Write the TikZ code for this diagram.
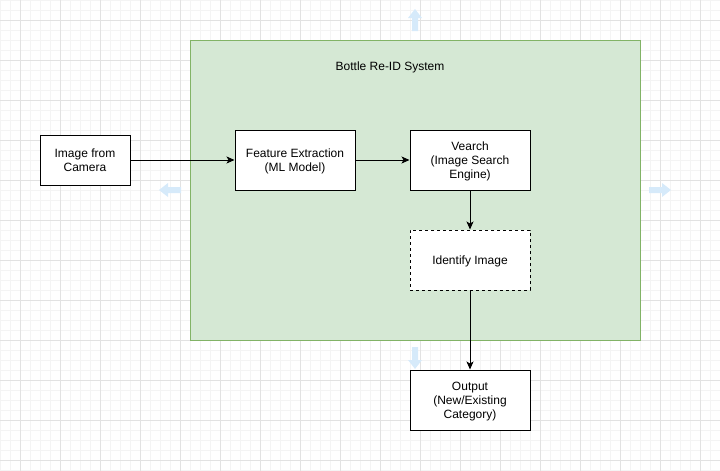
\documentclass[tikz,border=0pt]{standalone}
\usepackage{fontspec}
\setmainfont{Liberation Sans}
\usetikzlibrary{arrows.meta}

\definecolor{grpfill}{HTML}{D5E8D4}
\definecolor{grpline}{HTML}{82B366}
\definecolor{hint}{HTML}{D6EAFA}
\definecolor{minorline}{HTML}{F4F4F4}
\definecolor{majorline}{HTML}{E2E2E2}

\newcommand{\hintarrow}[2]{\fill[hint, shift={#1}, rotate=#2] (-3,11) -- (3,11) -- (3,-2) -- (7,-2) -- (0,-11) -- (-7,-2) -- (-3,-2) -- cycle;}

\begin{document}
\begin{tikzpicture}[x=1pt, y=-1pt, font=\fontsize{12}{14}\selectfont]
    \useasboundingbox (0,0) rectangle (720,471);

    % background grid
    \foreach \x in {0,10,...,720} \draw[minorline, line width=0.8pt] (\x,0) -- (\x,471);
    \foreach \y in {0,10,...,470} \draw[minorline, line width=0.8pt] (0,\y) -- (720,\y);
    \foreach \x in {20,60,...,700} \draw[majorline, line width=1pt] (\x,0) -- (\x,471);
    \foreach \y in {20,60,...,460} \draw[majorline, line width=1pt] (0,\y) -- (720,\y);

    % group
    \draw[grpline, fill=grpfill, line width=1pt] (190,40) rectangle (640,340);
    \node (title) [text depth=0pt] at (390,66) {Bottle Re-ID System};

    % hover arrows
    \hintarrow{(415,20)}{0}
    \hintarrow{(170,190)}{90}
    \hintarrow{(660,190)}{-90}
    \hintarrow{(415,358)}{180}

    \begin{scope}[every node/.style={rectangle, fill=white, draw, line width=1pt, minimum width=120pt, minimum height=60pt, align=center, inner sep=0pt, text depth=0pt}]
        \node (cam) [minimum width=90pt, minimum height=50pt] at (85,160) {Image from\\Camera};
        \node (fe) at (295,160) {Feature Extraction\\(ML Model)};
        \node (ve) at (470,160) {Vearch\\(Image Search\\Engine)};
        \node (id) [dash pattern=on 3pt off 3pt] at (470,260) {Identify Image};
        \node (out) at (470,400) {Output\\(New/Existing\\Category)};
    \end{scope}

    \begin{scope}[every edge/.style={draw, line width=1pt}]
        \path [-{Stealth[length=8pt, width=7pt, inset=2pt]}] (cam) edge (fe);
        \path [-{Stealth[length=8pt, width=7pt, inset=2pt]}] (fe) edge (ve);
        \path [-{Stealth[length=8pt, width=7pt, inset=2pt]}] (ve) edge (id);
        \path [-{Stealth[length=8pt, width=7pt, inset=2pt]}] (id) edge (out);
    \end{scope}
\end{tikzpicture}
\end{document}
